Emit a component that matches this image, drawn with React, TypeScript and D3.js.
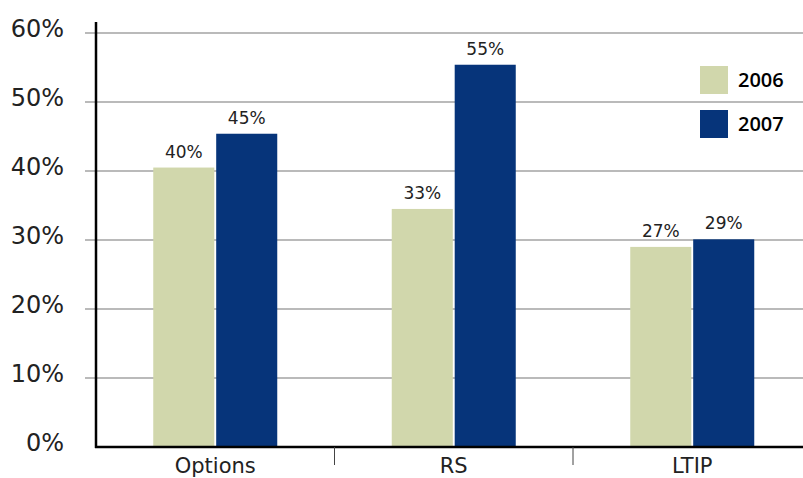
import * as d3 from "d3";
import { useEffect } from "react";

const categories = ["Options", "RS", "LTIP"];
const years = ["2006", "2007"];
const values2006 = [40.5, 34.5, 29];
const values2007 = [45.4, 55.4, 30.1];
const labels2006 = ["40%", "33%", "27%"];
const labels2007 = ["45%", "55%", "29%"];
const yTicks = [0, 10, 20, 30, 40, 50, 60];
const colors = ["#D1D7AC", "#06347A"];

const font = "'DejaVu Sans', 'Open Sans', sans-serif";
const legendFont = "'Open Sans', sans-serif";

export default function App() {
  useEffect(() => {
    document.body.style.margin = "0";
  }, []);

  const width = 803;
  const height = 478;
  const left = 96;

  const y = d3.scaleLinear().domain([0, 60]).range([447, 33]);
  const x = d3.scaleBand().domain(categories).range([left, left + 3 * 238.5]);
  const inner = d3.scaleBand().domain(years).range([-62, 62]).paddingInner(0.03);

  const series = [
    { year: years[0], values: values2006, labels: labels2006, color: colors[0] },
    { year: years[1], values: values2007, labels: labels2007, color: colors[1] },
  ];

  return (
    <svg width={width} height={height} style={{ display: "block" }}>
      {yTicks.map(t => (
        <g key={t}>
          {t > 0 && (
            <line x1={85} x2={width} y1={y(t)} y2={y(t)} stroke="#a3a3a3" strokeWidth={1.5} />
          )}
          <text
            x={64}
            y={y(t) - 3}
            textAnchor="end"
            dominantBaseline="middle"
            fontFamily={font}
            fontSize={24}
            fill="#222"
          >
            {t}%
          </text>
        </g>
      ))}

      {series.map(s =>
        categories.map((c, i) => {
          const cx = x(c)! + x.bandwidth() / 2;
          const bx = cx + inner(s.year)!;
          return (
            <g key={s.year + c}>
              <rect
                x={bx}
                y={y(s.values[i])}
                width={inner.bandwidth()}
                height={y(0) - y(s.values[i])}
                fill={s.color}
              />
              <text
                x={bx + inner.bandwidth() / 2}
                y={y(s.values[i]) - 10}
                textAnchor="middle"
                fontFamily={font}
                fontSize={17}
                fill="#222"
              >
                {s.labels[i]}
              </text>
            </g>
          );
        })
      )}

      <line x1={left} x2={left} y1={22} y2={448} stroke="#000" strokeWidth={2.5} />
      <line x1={left - 1} x2={width} y1={y(0)} y2={y(0)} stroke="#000" strokeWidth={2.5} />

      {categories.slice(1).map(c => (
        <line key={c} x1={x(c)} x2={x(c)} y1={y(0)} y2={465} stroke="#444" strokeWidth={1} />
      ))}

      {categories.map(c => (
        <text
          key={c}
          x={x(c)! + x.bandwidth() / 2}
          y={473}
          textAnchor="middle"
          fontFamily={font}
          fontSize={21}
          fill="#222"
        >
          {c}
        </text>
      ))}

      {series.map((s, i) => (
        <g key={s.year} transform={`translate(700, ${66 + i * 44})`}>
          <rect width={28} height={28} fill={s.color} />
          <text x={38} y={21} fontFamily={legendFont} fontSize={20} fontWeight={600} fill="#000">
            {s.year}
          </text>
        </g>
      ))}
    </svg>
  );
}
